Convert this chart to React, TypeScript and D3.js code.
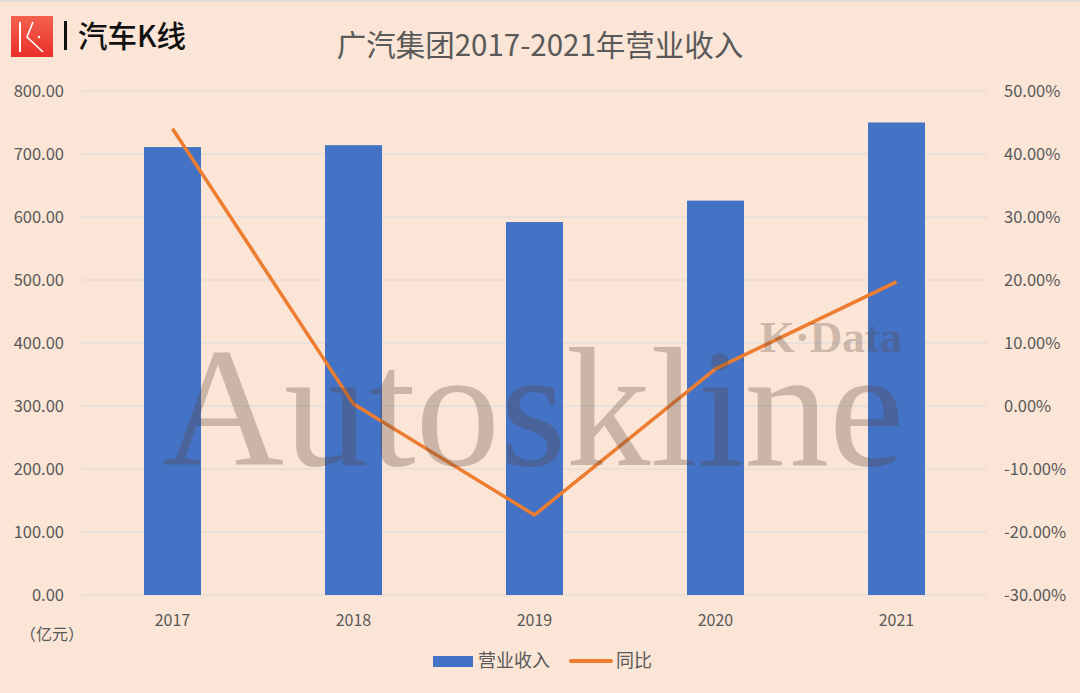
import React from "react";
import * as d3 from "d3";

const years = ["2017", "2018", "2019", "2020", "2021"];
const revenue = [711, 714, 592, 626, 750];
const yoy = [44.0, 0.3, -17.3, 5.9, 19.7];
const leftTicks = [0, 100, 200, 300, 400, 500, 600, 700, 800];
const rightTicks = [-30, -20, -10, 0, 10, 20, 30, 40, 50];

const W = 1080;
const H = 693;
const BG = "#FBE5D6";
const BAR = "#4472C4";
const LINE = "#ED7D31";
const TXT = "#595959";
const FONT = "'Noto Sans CJK SC', 'Noto Sans', sans-serif";

export default function App() {
  const left = 82, right = 987, top = 91, bottom = 595;
  const x = d3.scaleBand<string>().domain(years).range([left, right]).paddingInner(0.685).paddingOuter(0.3425);
  const yL = d3.scaleLinear().domain([0, 800]).range([bottom, top]);
  const yR = d3.scaleLinear().domain([-30, 50]).range([bottom, top]);
  const line = d3.line<number>().x((_, i) => (x(years[i]) as number) + x.bandwidth() / 2).y((d) => yR(d));

  return (
    <svg width={W} height={H} style={{ position: "absolute", left: 0, top: 0, display: "block" }} fontFamily={FONT}>
      <defs>
        <linearGradient id="lg" x1="0" y1="0" x2="0" y2="1">
          <stop offset="0" stopColor="#F4614F" />
          <stop offset="1" stopColor="#E9302A" />
        </linearGradient>
      </defs>
      <rect x={0} y={0} width={W} height={H} fill={BG} />
      <rect x={0} y={0} width={W} height={2} fill="#E0DCDA" />
      {/* logo */}
      <rect x={11} y={16} width={42} height={41} fill="url(#lg)" />
      <line x1={20} y1={22} x2={20} y2={52} stroke="#fff" strokeWidth={2} />
      <polyline points="33,22 27,37 43,52" fill="none" stroke="#fff" strokeWidth={1.6} />
      <circle cx={39} cy={37} r={1.2} fill="#fff" />
      <rect x={64} y={21} width={3} height={29} fill="#111" />
      <text x={78} y={47} fontSize={29.5} fill="#111" fontWeight={500}>汽车K线</text>
      {/* title */}
      <text x={540} y={56} textAnchor="middle" fontSize={29.5} fill={TXT}>广汽集团2017-2021年营业收入</text>
      {/* grid */}
      {leftTicks.map((t) => (
        <line key={t} x1={left} x2={right} y1={yL(t)} y2={yL(t)} stroke="#DCDCDC" strokeWidth={1.2} />
      ))}
      {leftTicks.map((t) => (
        <text key={"l" + t} x={64} y={yL(t)} dy="0.35em" textAnchor="end" fontSize={16.5} fill={TXT}>{t.toFixed(2)}</text>
      ))}
      {rightTicks.map((t) => (
        <text key={"r" + t} x={1004} y={yR(t)} dy="0.35em" textAnchor="start" fontSize={16.5} fill={TXT}>{t.toFixed(2) + "%"}</text>
      ))}
      {/* bars */}
      {revenue.map((v, i) => (
        <rect key={i} x={x(years[i])} y={yL(v)} width={x.bandwidth()} height={yL(0) - yL(v)} fill={BAR} />
      ))}
      {years.map((yv) => (
        <text key={yv} x={(x(yv) as number) + x.bandwidth() / 2} y={620} dy="0.35em" textAnchor="middle" fontSize={16} fill={TXT}>{yv}</text>
      ))}
      <path d={line(yoy) || ""} fill="none" stroke={LINE} strokeWidth={3.5} strokeLinejoin="round" />
      <text x={20} y={634} dy="0.35em" fontSize={16} fill={TXT}>（亿元）</text>
      {/* watermark */}
      <g fill="rgb(90,70,60)" fillOpacity={0.3} fontFamily="'Liberation Serif', 'DejaVu Serif', serif">
        <text x={533} y={465} textAnchor="middle" fontSize={170} textLength={742} lengthAdjust="spacingAndGlyphs">Autoskline</text>
        <text x={831} y={352} textAnchor="middle" fontSize={45} fontWeight="bold">K·Data</text>
      </g>
      {/* legend */}
      <rect x={433} y={656} width={40} height={11} fill={BAR} />
      <text x={478} y={661} dy="0.35em" fontSize={18} fill={TXT}>营业收入</text>
      <line x1={571} x2={611} y1={661} y2={661} stroke={LINE} strokeWidth={4} strokeLinecap="round" />
      <text x={616} y={661} dy="0.35em" fontSize={18} fill={TXT}>同比</text>
    </svg>
  );
}
